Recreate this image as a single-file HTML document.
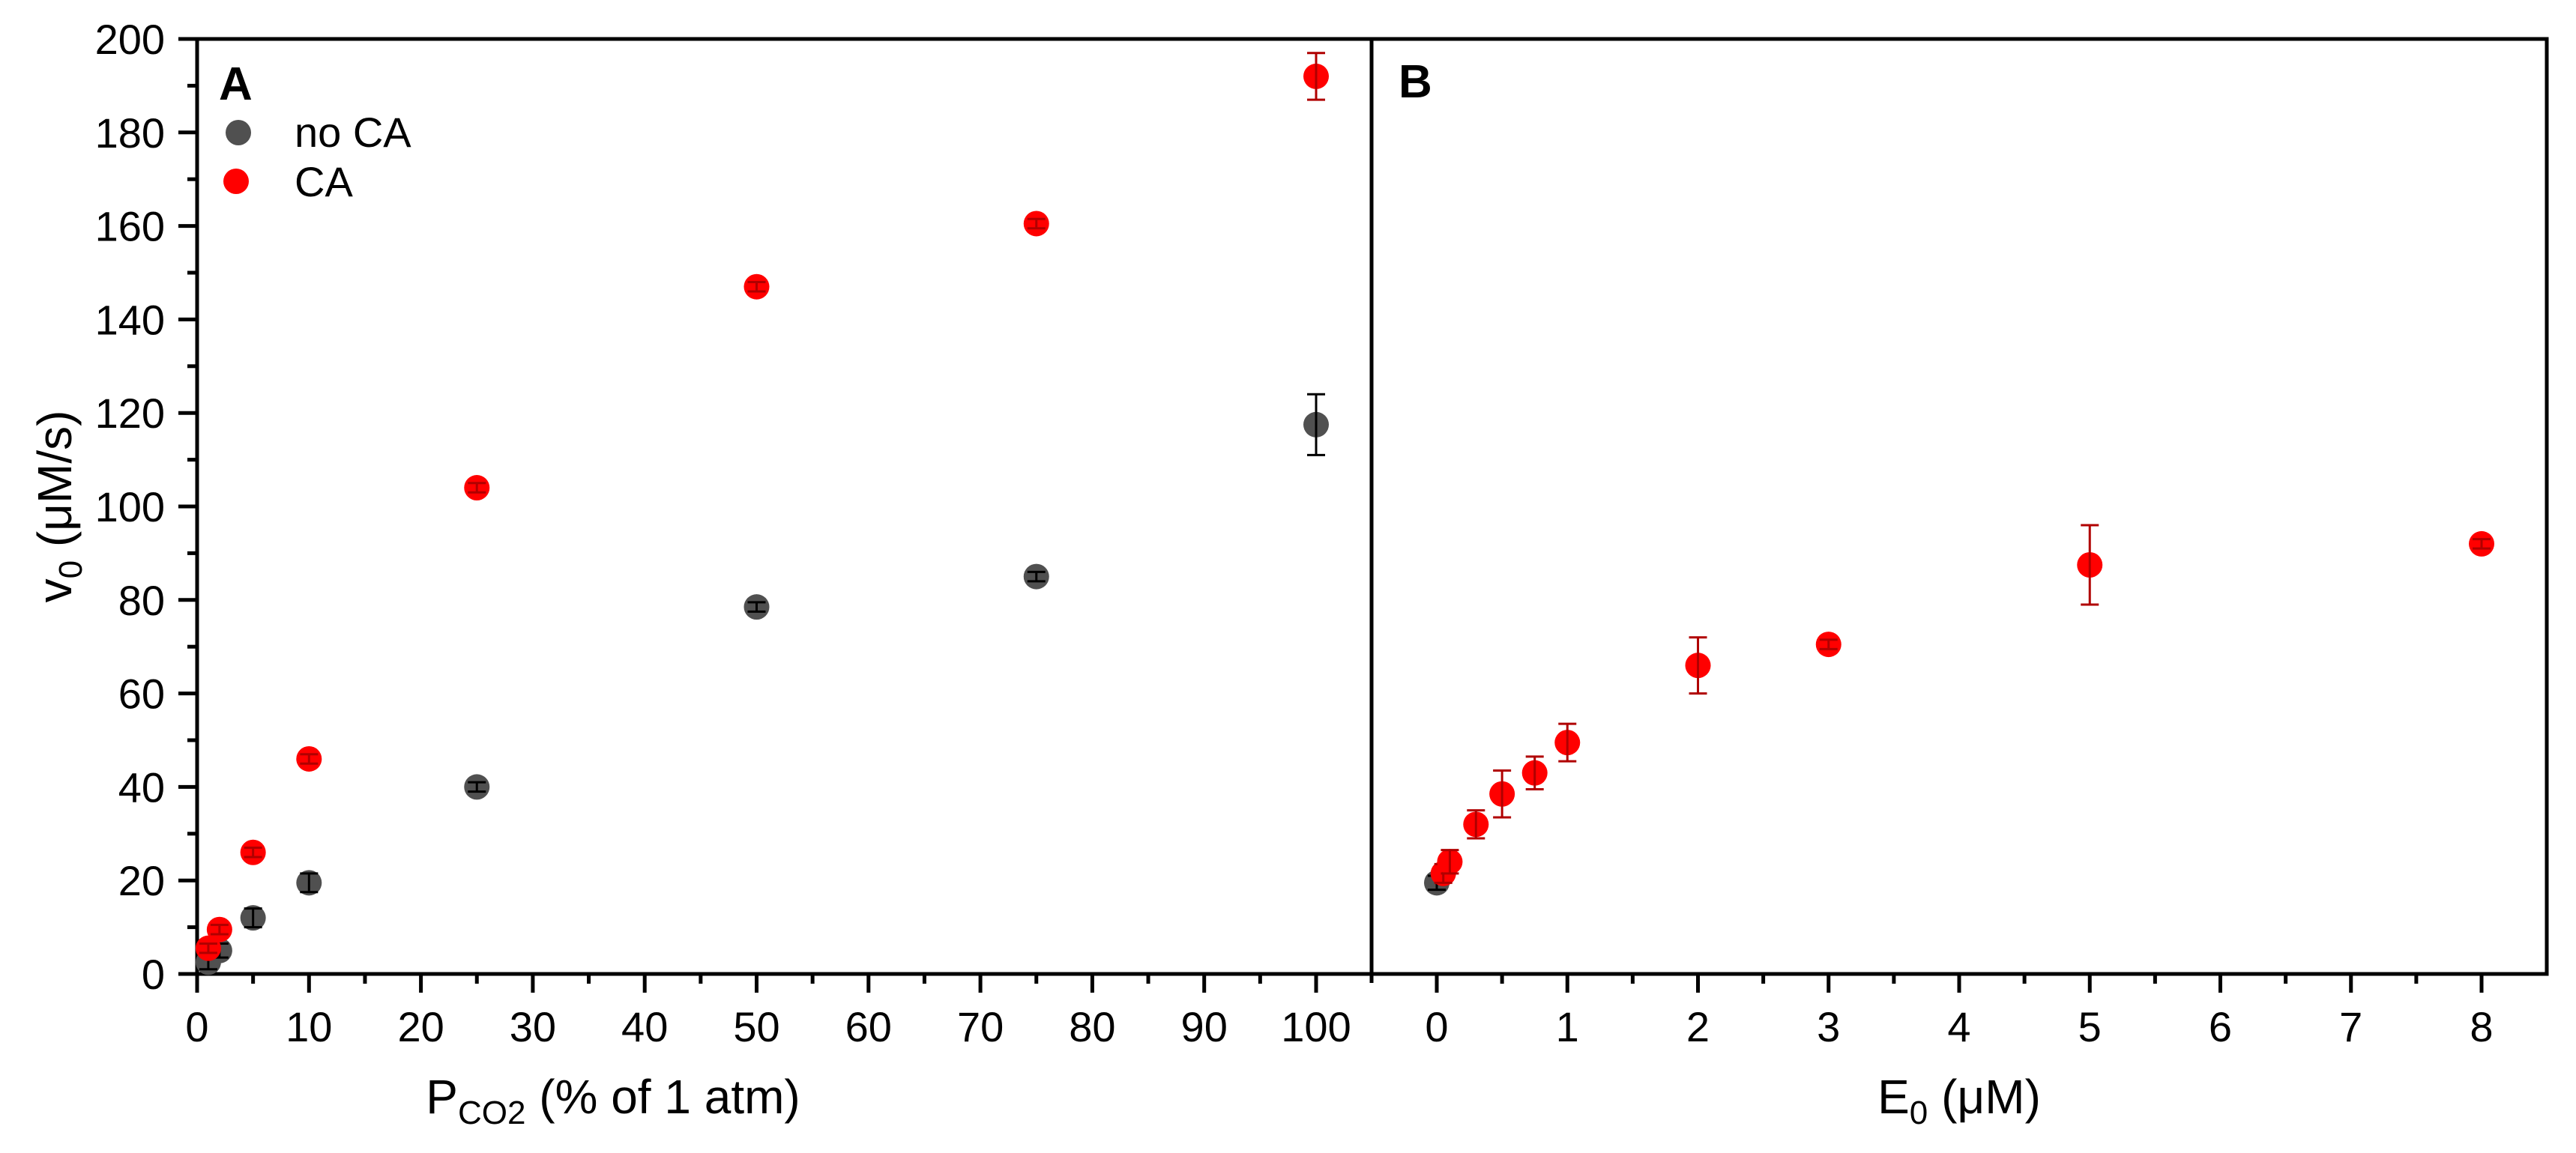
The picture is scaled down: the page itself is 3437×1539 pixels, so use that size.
<!DOCTYPE html>
<html><head><meta charset="utf-8"><style>
html,body{margin:0;padding:0;background:#fff}
svg{display:block;font-family:"Liberation Sans",Arial,sans-serif}
</style></head><body>
<svg id="chart" width="3437" height="1539" viewBox="0 0 3437 1539" xmlns="http://www.w3.org/2000/svg">
<g id="layer"></g>
</svg>
<script>
// Panel A data
const aNoCaX = [1, 2, 5, 10, 25, 50, 75, 100];
const aNoCaY = [2.5, 5, 12, 19.5, 40, 78.5, 85, 117.5];
const aNoCaErr = [1.5, 1.5, 2, 2, 1, 1, 1, 6.5];
const aCaX = [1, 2, 5, 10, 25, 50, 75, 100];
const aCaY = [5.5, 9.5, 26, 46, 104, 147, 160.5, 192];
const aCaErr = [1, 1, 1, 1, 1, 1, 1, 5];
// Panel B data
const bNoCaX = [0];
const bNoCaY = [19.5];
const bNoCaErr = [1.5];
const bCaX = [0.05, 0.1, 0.3, 0.5, 0.75, 1, 2, 3, 5, 8];
const bCaY = [21.5, 24, 32, 38.5, 43, 49.5, 66, 70.5, 87.5, 92];
const bCaErr = [2, 2.5, 3, 5, 3.5, 4, 6, 1, 8.5, 1];
// Tick labels
const aXTicks = [0, 10, 20, 30, 40, 50, 60, 70, 80, 90, 100];
const bXTicks = [0, 1, 2, 3, 4, 5, 6, 7, 8];
const yTicks = [0, 20, 40, 60, 80, 100, 120, 140, 160, 180, 200];

const NS = 'http://www.w3.org/2000/svg';
const L = document.getElementById('layer');
function mk(tag, attrs, parent) {
  const e = document.createElementNS(NS, tag);
  for (const k in attrs) e.setAttribute(k, attrs[k]);
  (parent || L).appendChild(e);
  return e;
}
const plotTop = 52, plotBot = 1300;
const yS = v => plotBot - (v / 200) * (plotBot - plotTop);
const ax = v => 263 + (v / 100) * (1756 - 263);
const bx = v => 1917 + (v / 8) * (3311 - 1917);

// frame
let fr = mk('rect', {x: 263, y: plotTop, width: 3398 - 263, height: plotBot - plotTop, fill: 'none', stroke: '#000', 'stroke-width': 5});


let dv = mk('line', {x1: 1830, y1: plotTop, x2: 1830, y2: plotBot + 12, stroke: '#000', 'stroke-width': 5});



// y ticks
for (let v = 0; v <= 200; v += 10) {
  const major = v % 20 === 0;
  const t = mk('line', {x1: 263, x2: 263 - (major ? 25 : 13), y1: yS(v), y2: yS(v), stroke: '#000', 'stroke-width': 5});
  
  
}
yTicks.forEach(v => {
  const t = mk('text', {x: 220, y: yS(v) + 20, 'font-size': 56, 'text-anchor': 'end', fill: '#000'});
  t.textContent = v;
  
  
});
// A x ticks
for (let v = 0; v <= 100; v += 5) {
  const major = v % 10 === 0;
  const t = mk('line', {x1: ax(v), x2: ax(v), y1: plotBot, y2: plotBot + (major ? 25 : 13), stroke: '#000', 'stroke-width': 5});
  
  
}
aXTicks.forEach(v => {
  const t = mk('text', {x: ax(v), y: 1390, 'font-size': 56, 'text-anchor': 'middle'});
  t.textContent = v;
  
  
});
// B x ticks
for (let v = 0; v <= 8.001; v += 0.5) {
  const major = Math.abs(v - Math.round(v)) < 1e-6;
  const t = mk('line', {x1: bx(v), x2: bx(v), y1: plotBot, y2: plotBot + (major ? 25 : 13), stroke: '#000', 'stroke-width': 5});
  
  
}
bXTicks.forEach(v => {
  const t = mk('text', {x: bx(v), y: 1390, 'font-size': 56, 'text-anchor': 'middle'});
  t.textContent = v;
  
  
});

function series(xs, ys, es, xf, color, ecolor, name) {
  xs.forEach((x, i) => {
    const cx = xf(x), cy = yS(ys[i]);
    const c = mk('circle', {cx: cx, cy: cy, r: 17, fill: color});
    
    
    const y1 = yS(ys[i] + es[i]), y2 = yS(ys[i] - es[i]);
    const e = mk('path', {d: `M${cx},${y1}V${y2}M${cx - 12},${y1}H${cx + 12}M${cx - 12},${y2}H${cx + 12}`, stroke: ecolor, 'stroke-width': 3, fill: 'none'});
    
    
  });
}
series(aNoCaX, aNoCaY, aNoCaErr, ax, '#505050', '#000', 'a-no-ca');
series(aCaX, aCaY, aCaErr, ax, '#ff0000', '#b00000', 'a-ca');
series(bNoCaX, bNoCaY, bNoCaErr, bx, '#505050', '#000', 'b-no-ca');
series(bCaX, bCaY, bCaErr, bx, '#ff0000', '#b00000', 'b-ca');

// panel labels
let pa = mk('text', {x: 292, y: 133, 'font-size': 62, 'font-weight': 'bold'}); pa.textContent = 'A';


let pb = mk('text', {x: 1866, y: 130, 'font-size': 62, 'font-weight': 'bold'}); pb.textContent = 'B';



// legend
let l1 = mk('circle', {cx: 318, cy: 177, r: 17, fill: '#505050'});


let l1t = mk('text', {x: 393, y: 196, 'font-size': 56}); l1t.textContent = 'no CA';


let l2 = mk('circle', {cx: 315, cy: 242, r: 17, fill: '#ff0000'});


let l2t = mk('text', {x: 393, y: 262, 'font-size': 56}); l2t.textContent = 'CA';



// axis titles
let yt = mk('text', {x: 0, y: 0, 'font-size': 64, 'text-anchor': 'middle', transform: 'translate(95,676) rotate(-90)'});
yt.innerHTML = 'v<tspan font-size="44" dy="14">0</tspan><tspan dy="-14"> (μM/s)</tspan>';


let xa = mk('text', {x: 818, y: 1486, 'font-size': 64, 'text-anchor': 'middle'});
xa.innerHTML = 'P<tspan font-size="44" dy="14">CO2</tspan><tspan dy="-14"> (% of 1 atm)</tspan>';


let xb = mk('text', {x: 2614, y: 1486, 'font-size': 64, 'text-anchor': 'middle'});
xb.innerHTML = 'E<tspan font-size="44" dy="14">0</tspan><tspan dy="-14"> (μM)</tspan>';


</script>
</body></html>
